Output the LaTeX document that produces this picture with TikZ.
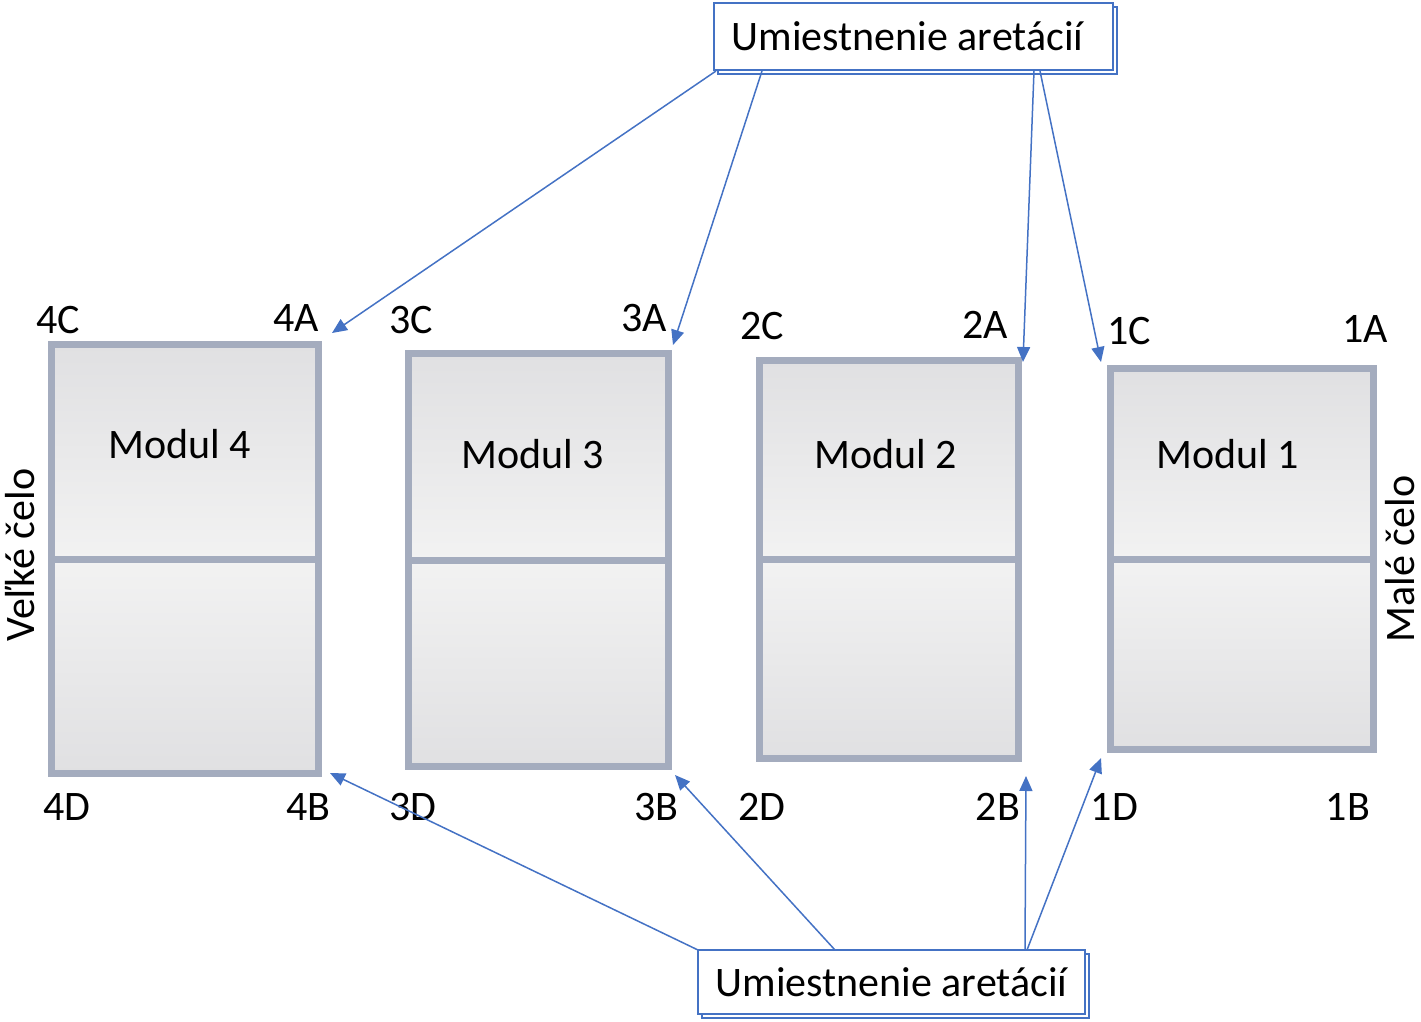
\documentclass[tikz,border=0pt]{standalone}
\usepackage{fontspec}
\setmainfont{Carlito}
\usetikzlibrary{arrows.meta,shadows}
\definecolor{linkblue}{RGB}{68,114,196}
\definecolor{framegray}{RGB}{164,172,190}
\definecolor{panedark}{RGB}{224,224,226}
\definecolor{panelight}{RGB}{242,242,242}

\begin{document}
\begin{tikzpicture}[x=0.5pt,y=-0.5pt]
\tikzstyle{module} = [rectangle, draw=framegray, line width=3.5pt,
top color=panedark, bottom color=panedark, middle color=panelight, inner sep=0pt]
\tikzstyle{divider} = [draw=framegray, line width=3.5pt];
\tikzstyle{note} = [rectangle, draw=linkblue, line width=1pt, fill=white,
copy shadow={shadow xshift=1.8pt, shadow yshift=-1.8pt, draw=linkblue, fill=white},
inner sep=0pt, font=\fontsize{21}{25}\selectfont]
\tikzstyle{corner} = [anchor=base, inner sep=0pt, font=\fontsize{21}{25}\selectfont];
\tikzstyle{line} = [draw=linkblue, line width=0.75pt, -{Triangle[length=7.5pt,width=6.5pt]}];

\useasboundingbox (0,0) rectangle (1421,1022);

% modules
\node [module, minimum width=133.5pt, minimum height=214.5pt] (m4) at (185,559) {};
\node [module, minimum width=130pt, minimum height=206.5pt] (m3) at (538.5,560) {};
\node [module, minimum width=129.5pt, minimum height=199pt] (m2) at (889,559.5) {};
\node [module, minimum width=131.5pt, minimum height=190.5pt] (m1) at (1242,559) {};
\draw [divider] (m4.west) -- (m4.east);
\draw [divider] (m3.west) -- (m3.east);
\draw [divider] (m2.west) -- (m2.east);
\draw [divider] (m1.west) -- (m1.east);

\node [corner] (t4) at (180,458) {Modul 4};
\node [corner] (t3) at (533,468) {Modul 3};
\node [corner] (t2) at (886,468) {Modul 2};
\node [corner] (t1) at (1228,468) {Modul 1};

% corner labels
\node [corner] (c4C) at (58,333) {4C};
\node [corner] (c4A) at (296,331) {4A};
\node [corner] (c3C) at (411,334) {3C};
\node [corner] (c3A) at (644,331) {3A};
\node [corner] (c2C) at (762,339) {2C};
\node [corner] (c2A) at (985,338) {2A};
\node [corner] (c1C) at (1129.5,344) {1C};
\node [corner] (c1A) at (1365,343) {1A};
\node [corner] (c4D) at (67,820) {4D};
\node [corner] (c4B) at (308.5,820) {4B};
\node [corner] (c3D) at (413,820) {3D};
\node [corner] (c3B) at (656.5,820) {3B};
\node [corner] (c2D) at (762,820) {2D};
\node [corner] (c2B) at (998,820) {2B};
\node [corner] (c1D) at (1114.5,820) {1D};
\node [corner] (c1B) at (1348,820) {1B};

% ends
\node [rotate=90, inner sep=0pt, font=\fontsize{21}{25}\selectfont] (big) at (20,555) {Veľké čelo};
\node [rotate=90, inner sep=0pt, font=\fontsize{21}{25}\selectfont] (small) at (1400,559) {Malé čelo};

% notes
\node [note, minimum width=199.5pt, minimum height=33.5pt] (upper) at (913.5,36.5) {\hspace*{-6pt}Umiestnenie aretácií};
\node [note, minimum width=193.5pt, minimum height=32pt] (lower) at (891.5,982) {Umiestnenie aretácií};

\coordinate (u1) at (716,71);
\coordinate (u2) at (762,71);
\coordinate (u3) at (1034,71);
\coordinate (u4) at (1040,71);
\coordinate (d1) at (698,950);
\coordinate (d2) at (835,950);
\coordinate (d3) at (1025,950);
\coordinate (d4) at (1027,950);

\coordinate (a4) at (332,333);
\coordinate (a3) at (673,345);
\coordinate (a2) at (1023,362);
\coordinate (a1) at (1101,362);
\coordinate (b4) at (330,773);
\coordinate (b3) at (675,775);
\coordinate (b2) at (1026,776);
\coordinate (b1) at (1101,758);

\path [line] (u1) -- (a4);
\path [line] (u2) -- (a3);
\path [line] (u3) -- (a2);
\path [line] (u4) -- (a1);
\path [line] (d1) -- (b4);
\path [line] (d2) -- (b3);
\path [line] (d3) -- (b2);
\path [line] (d4) -- (b1);
\end{tikzpicture}
\end{document}
